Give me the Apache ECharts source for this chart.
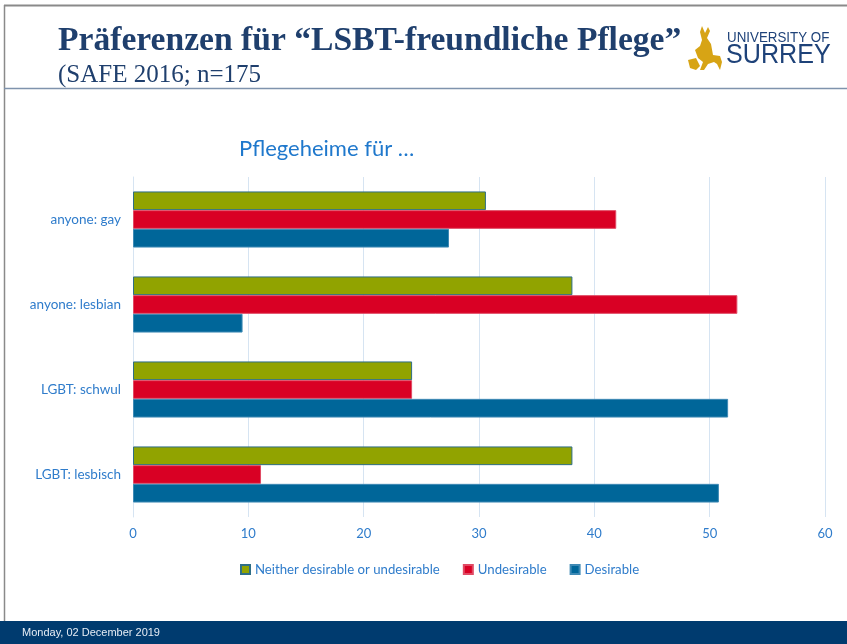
<!DOCTYPE html>
<html>
<head>
<meta charset="utf-8">
<script src="https://cdn.jsdelivr.net/npm/echarts@6/dist/echarts.min.js"></script>
<style>html,body{margin:0;padding:0;background:#fff;}#c{width:847px;height:644px;}</style>
</head>
<body>
<div id="c"></div>
<script>
const categories = ["anyone: gay", "anyone: lesbian", "LGBT: schwul", "LGBT: lesbisch"];
const seriesNames = ["Neither desirable or undesirable", "Undesirable", "Desirable"];
const neitherValues = [30.6, 38.1, 24.2, 38.1];
const undesirableValues = [41.9, 52.4, 24.2, 11.1];
const desirableValues = [27.4, 9.5, 51.6, 50.8];
const xTicks = [0, 10, 20, 30, 40, 50, 60];

const chart = echarts.init(document.getElementById('c'));
const labelBlue = '#2f7ccb';
const navy = '#1f3f6d';

const option = {
  backgroundColor: '#ffffff',
  animation: false,
  title: {
    text: 'Pflegeheime für …',
    left: 234, top: 133,
    textStyle: { color: '#1f78cc', fontSize: 22, fontWeight: 'normal', fontFamily: 'Lato' }
  },
  legend: {
    data: seriesNames,
    top: 558, left: 235,
    itemWidth: 9, itemHeight: 9, itemGap: 23,
    icon: 'rect',
    textStyle: { color: labelBlue, fontSize: 13.2, fontFamily: 'Lato' }
  },
  grid: { left: 133, right: 22, top: 177, bottom: 127, containLabel: false },
  xAxis: {
    type: 'value', min: 0, max: 60, interval: 10,
    axisLine: { show: false }, axisTick: { show: false },
    axisLabel: { color: labelBlue, fontSize: 13, fontFamily: 'Lato', margin: 10,
      formatter: function (v) { return xTicks.indexOf(v) >= 0 ? String(v) : ''; } },
    splitLine: { lineStyle: { color: '#d6e4f2', width: 1 } }
  },
  yAxis: {
    type: 'category', data: categories, inverse: true,
    axisLine: { show: true, lineStyle: { color: '#d6e4f2' } },
    axisTick: { show: false },
    axisLabel: { color: labelBlue, fontSize: 13.5, fontFamily: 'Lato', margin: 12 }
  },
  series: [
    { name: seriesNames[0], type: 'bar', data: neitherValues, barGap: '0%', barCategoryGap: '34%',
      itemStyle: { color: '#91a300', borderColor: '#2f6e86', borderWidth: 1 } },
    { name: seriesNames[1], type: 'bar', data: undesirableValues, barGap: '0%', barCategoryGap: '34%',
      itemStyle: { color: '#d90024', borderColor: '#e04a64', borderWidth: 1 } },
    { name: seriesNames[2], type: 'bar', data: desirableValues, barGap: '0%', barCategoryGap: '34%',
      itemStyle: { color: '#006699', borderColor: '#3f8ab5', borderWidth: 1 } }
  ],
  graphic: [
    { type: 'line', shape: { x1: 4, y1: 5.5, x2: 847, y2: 5.5 }, style: { stroke: '#8a8a8a', lineWidth: 2 } },
    { type: 'line', shape: { x1: 4.5, y1: 5, x2: 4.5, y2: 621 }, style: { stroke: '#8a8a8a', lineWidth: 1.5 } },
    { type: 'line', shape: { x1: 4, y1: 88.5, x2: 847, y2: 88.5 }, style: { stroke: '#7f93ad', lineWidth: 1.5 } },
    { type: 'text', left: 58, top: 24, style: { text: 'Präferenzen für “LSBT-freundliche Pflege”', fill: navy, font: 'bold 33.6px "Liberation Serif"' } },
    { type: 'text', left: 58, top: 63, style: { text: '(SAFE 2016; n=175', fill: navy, font: '25px "Liberation Serif"' } },
    // logo stag (simplified silhouette)
    { type: 'polygon', shape: { points: [[700,32],[702,26],[705,33],[708,27],[710,31],[707,38],[711,44],[713,55],[720,56],[722,62],[720,70],[717,64],[714,62],[708,64],[704,70],[700,70],[703,62],[698,58],[695,50],[700,46],[702,40]] },
      style: { fill: '#d7a415' } },
    { type: 'polygon', shape: { points: [[688,60],[696,58],[700,66],[696,70],[690,68]] }, style: { fill: '#d7a415' } },
    { type: 'text', left: 727, top: 30, style: { text: 'UNIVERSITY OF', fill: '#1e4279', font: '15px "Liberation Sans"' }, scaleX: 0.89 },
    { type: 'text', left: 726, top: 42, style: { text: 'SURREY', fill: '#1e4279', font: '27px "Liberation Sans"' }, scaleX: 0.93 },
    // footer
    { type: 'rect', shape: { x: 0, y: 621, width: 847, height: 23 }, style: { fill: '#003b6f' } },
    { type: 'text', left: 22, top: 627, style: { text: 'Monday, 02 December 2019', fill: '#e6edf5', font: '11px "Liberation Sans"' } }
  ]
};
chart.setOption(option);
</script>
</body>
</html>
